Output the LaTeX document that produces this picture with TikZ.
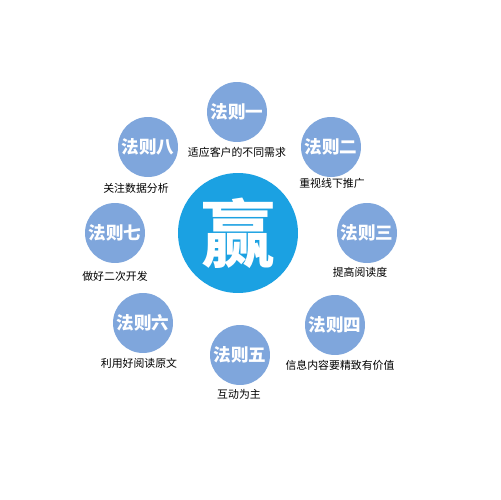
\documentclass[tikz,border=0pt]{standalone}
\usepackage{fontspec}
\newfontfamily\cjk{Noto Sans CJK SC}
\definecolor{winblue}{HTML}{1BA1E2}
\definecolor{ruleblue}{HTML}{7FA6DC}
\begin{document}
\begin{tikzpicture}[x=0.02cm,y=-0.02cm,
    rule/.style={circle,fill=ruleblue,minimum size=1.2cm,inner sep=0pt,text=white,font=\cjk\bfseries\fontsize{10}{12}\selectfont},
    note/.style={inner sep=0pt,text=black,font=\cjk\fontsize{6.2}{7}\selectfont}]
    \fill[white] (0,0) rectangle (500,500);
    \node[circle,fill=winblue,minimum size=2.4cm,inner sep=0pt,text=white,font=\cjk\bfseries\fontsize{42}{44}\selectfont] (win) at (238,233) {赢};
    \node[rule] (r1) at (237,112) {法则一};
    \node[rule] (r2) at (331,147) {法则二};
    \node[rule] (r3) at (367,233) {法则三};
    \node[rule] (r4) at (335,325) {法则四};
    \node[rule] (r5) at (240,355) {法则五};
    \node[rule] (r6) at (143,323) {法则六};
    \node[rule] (r7) at (115,233) {法则七};
    \node[rule] (r8) at (148,147) {法则八};
    \node[note] (n1) at (237,152) {适应客户的不同需求};
    \node[note] (n2) at (332,183) {重视线下推广};
    \node[note] (n3) at (360,272) {提高阅读度};
    \node[note] (n4) at (340,365) {信息内容要精致有价值};
    \node[note] (n5) at (239,394) {互动为主};
    \node[note] (n6) at (139,363) {利用好阅读原文};
    \node[note] (n7) at (115,276) {做好二次开发};
    \node[note] (n8) at (136,188) {关注数据分析};
\end{tikzpicture}
\end{document}
